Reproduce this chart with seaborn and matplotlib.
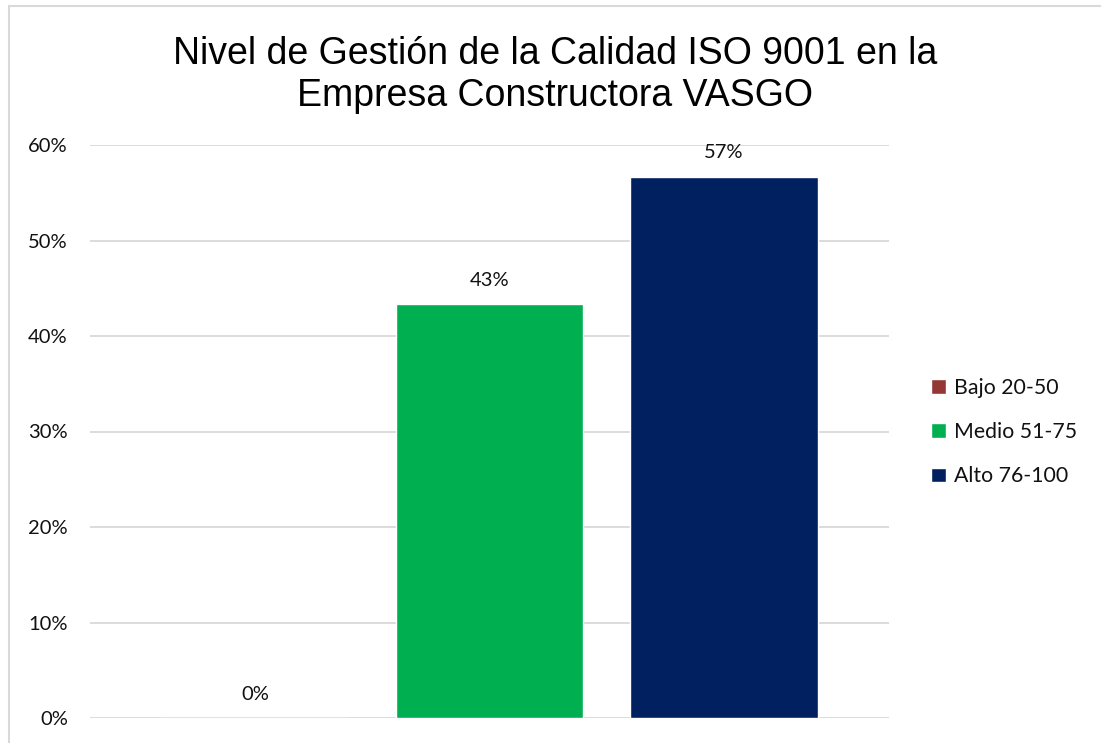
import matplotlib
matplotlib.use("Agg")
import matplotlib.pyplot as plt
import seaborn as sns
import pandas as pd
from matplotlib.patches import Rectangle

# Data
niveles = ["Bajo 20-50", "Medio 51-75", "Alto 76-100"]
valores = [0.0, 0.433, 0.567]
etiquetas = ["0%", "43%", "57%"]
colores = ["#953735", "#00B050", "#002060"]
ticks_y = [0.0, 0.1, 0.2, 0.3, 0.4, 0.5, 0.6]
ticks_lbl = ["0%", "10%", "20%", "30%", "40%", "50%", "60%"]
titulo = "Nivel de Gestión de la Calidad ISO 9001 en la\nEmpresa Constructora VASGO"

df = pd.DataFrame({"grupo": ["g"] * len(niveles), "nivel": niveles, "valor": valores})

sns.set_theme(style="white")
plt.rcParams["font.family"] = ["Lato", "DejaVu Sans"]

W, H = 1101, 743
fig = plt.figure(figsize=(W / 100, H / 100), dpi=100)
fig.patch.set_facecolor("white")

# outer chart border
fig.patches.append(Rectangle((9 / W, -0.1), 1.2, 1 - 6 / H + 0.1, transform=fig.transFigure,
                             fill=False, edgecolor="#d9d9d9", linewidth=1.5))

ax = fig.add_axes([90 / W, 25 / H, (889 - 90) / W, (718 - 145) / H])
sns.barplot(data=df, x="grupo", y="valor", hue="nivel", hue_order=niveles,
            palette=colores, width=0.88, gap=0.2, ax=ax, saturation=1, legend=True)

ax.set_ylim(0, 0.6)
ax.set_xlim(-0.5, 0.5)
ax.set_yticks(ticks_y)
ax.set_yticklabels(ticks_lbl, fontsize=14.5, color="#111111")
ax.tick_params(axis="y", length=0, pad=16)
ax.set_xticks([])
ax.set_xlabel("")
ax.set_ylabel("")
ax.yaxis.grid(True, color="#d9d9d9", linewidth=1.3)
ax.set_axisbelow(True)
for s in ax.spines.values():
    s.set_visible(False)

for cont, lab in zip(ax.containers, etiquetas):
    ax.bar_label(cont, labels=[lab], padding=11, fontsize=14.5, color="#111111")

handles, labels = ax.get_legend_handles_labels()
ax.legend(handles, labels, loc="center left", bbox_to_anchor=(912 / W, 1 - 432 / H),
          bbox_transform=fig.transFigure, frameon=False, fontsize=15.3,
          handlelength=0.7, handleheight=0.7, handletextpad=0.4, labelspacing=1.15,
          labelcolor="#111111")

fig.text(555 / W, 1 - 75 / H, titulo, ha="center", va="center", fontsize=27,
         family=["Liberation Sans", "DejaVu Sans"], color="#000000", linespacing=1.25)

fig.savefig("out.png", dpi=100)
